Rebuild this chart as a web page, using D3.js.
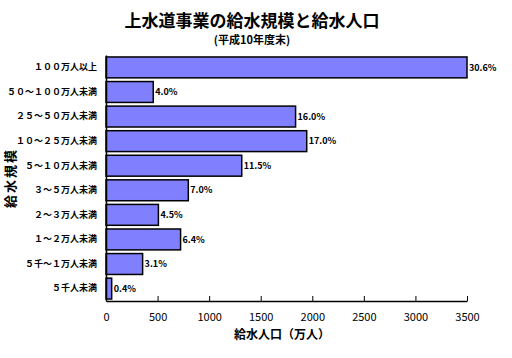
<!DOCTYPE html>
<html>
<head>
<meta charset="utf-8">
<script src="https://cdn.jsdelivr.net/npm/d3@7/dist/d3.min.js"></script>
<style>
  body { margin: 0; background: #fff; }
  svg { font-family: "Noto Sans CJK JP", sans-serif; }
</style>
</head>
<body>
<div id="chart"></div>
<script>
// categories, top to bottom
const categories = [
  '１００万人以上', '５０～１００万人未満', '２５～５０万人未満', '１０～２５万人未満',
  '５～１０万人未満', '３～５万人未満', '２～３万人未満', '１～２万人未満',
  '５千～１万人未満', '５千人未満'
];
// 給水人口 (万人)
const population = [3500, 458, 1838, 1946, 1316, 798, 508, 723, 355, 55];
const shareLabels = ['30.6%', '4.0%', '16.0%', '17.0%', '11.5%', '7.0%', '4.5%', '6.4%', '3.1%', '0.4%'];
const xTicks = [0, 500, 1000, 1500, 2000, 2500, 3000, 3500];

const data = categories.map((c, i) => ({ cat: c, value: population[i], label: shareLabels[i] }));

const margin = { top: 55, right: 45, bottom: 57, left: 106 };
const width = 512 - margin.left - margin.right;
const height = 358 - margin.top - margin.bottom;

const svg = d3.select('#chart')
  .append('svg')
  .attr('width', 512)
  .attr('height', 358);

// Titles
svg.append('text')
  .attr('x', 252).attr('y', 27)
  .attr('text-anchor', 'middle')
  .attr('font-size', 17).attr('font-weight', 'bold')
  .text('上水道事業の給水規模と給水人口');

svg.append('text')
  .attr('x', 252).attr('y', 44)
  .attr('text-anchor', 'middle')
  .attr('font-size', 11).attr('font-weight', 'bold')
  .text('(平成10年度末)');

const g = svg.append('g')
  .attr('transform', `translate(${margin.left},${margin.top})`);

const x = d3.scaleLinear().domain([0, 3500]).range([0, width]);
const y = d3.scaleBand().domain(categories).range([0, height]).paddingInner(0.15).paddingOuter(0.08);

// Bars
g.selectAll('rect.bar')
  .data(data)
  .enter()
  .append('rect')
  .attr('class', 'bar')
  .attr('x', 0)
  .attr('y', (d) => y(d.cat))
  .attr('width', (d) => x(d.value))
  .attr('height', y.bandwidth())
  .attr('fill', '#8080ff')
  .attr('stroke', '#000')
  .attr('stroke-width', 1.5);

// Value labels
g.selectAll('text.val')
  .data(data)
  .enter()
  .append('text')
  .attr('class', 'val')
  .attr('x', (d) => x(d.value) + 2)
  .attr('y', (d) => y(d.cat) + y.bandwidth() / 2)
  .attr('dy', '0.35em')
  .attr('font-size', 9).attr('font-weight', 'bold')
  .text((d) => d.label);

// X axis
const xAxis = g.append('g')
  .attr('transform', `translate(0,${height})`)
  .call(d3.axisBottom(x).tickValues(xTicks).tickFormat(d3.format('d'))
    .tickSizeInner(-5).tickSizeOuter(0).tickPadding(12));
xAxis.select('.domain').attr('stroke', '#000').attr('stroke-width', 1.5);
xAxis.selectAll('.tick line').attr('stroke', '#000');
xAxis.selectAll('.tick text').attr('font-size', 11).attr('font-family', '"Noto Sans CJK JP", sans-serif');

// Y axis
const yAxis = g.append('g')
  .call(d3.axisLeft(y).tickSize(0).tickPadding(9));
yAxis.select('.domain').attr('stroke', '#000').attr('stroke-width', 1.5);
yAxis.selectAll('.tick text')
  .attr('font-size', 9).attr('font-weight', 'bold')
  .attr('font-family', '"Noto Sans CJK JP", sans-serif');

// Axis titles
svg.append('text')
  .attr('x', 282).attr('y', 339)
  .attr('text-anchor', 'middle')
  .attr('font-size', 12).attr('font-weight', 'bold')
  .text('給水人口（万人）');

svg.append('text')
  .attr('transform', `translate(15,${margin.top + height / 2}) rotate(-90)`)
  .attr('text-anchor', 'middle')
  .attr('font-size', 13).attr('font-weight', 'bold')
  .attr('letter-spacing', 2)
  .text('給水規模');
</script>
</body>
</html>
